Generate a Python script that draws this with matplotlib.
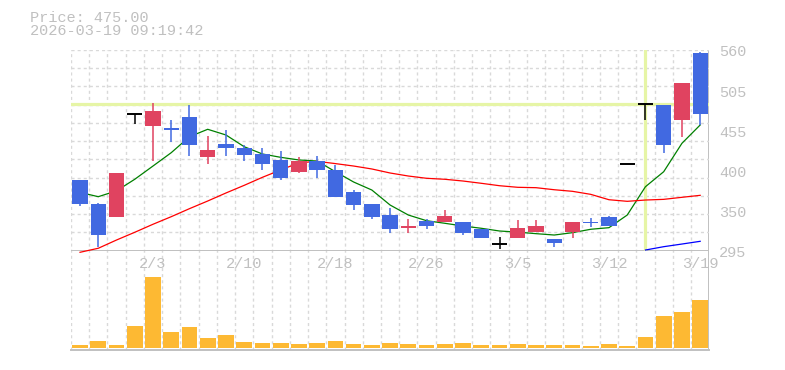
import numpy as np
import matplotlib
matplotlib.use("Agg")
import matplotlib.pyplot as plt
import matplotlib.transforms as mtransforms

# trading days shown on the chart
dates = ["1/28", "1/29", "1/30", "2/2", "2/3", "2/4", "2/5", "2/6", "2/9", "2/10",
         "2/12", "2/13", "2/16", "2/17", "2/18", "2/19", "2/20", "2/24", "2/25", "2/26",
         "2/27", "3/2", "3/3", "3/4", "3/5", "3/6", "3/9", "3/10", "3/11", "3/12",
         "3/13", "3/16", "3/17", "3/18", "3/19"]

opens = [388, 357, 340, 476, 460, 457, 471.5, 419, 436, 431,
         423, 415, 399, 413, 402, 372, 357, 342, 324.5, 334,
         333, 333, 323, 304, 312, 320, 310.5, 320, 333, 339.5,
         409, 488.7, 487, 467, 556]
highs = [388, 358, 398, 476, 490, 468, 487, 446, 454, 434,
         431, 427, 419, 420, 408, 375, 357, 351, 337, 336.5,
         349, 333, 323, 313, 335.5, 335, 310.5, 333, 338, 341,
         409, 488.7, 488, 516, 558]
lows = [354, 300, 340, 462, 414, 438, 420, 410, 420, 414,
        401, 389, 397, 391, 366, 349, 337, 318, 318, 323,
        333, 316, 312, 297, 312, 320, 299.5, 312, 326, 327,
        409, 467, 424, 445.5, 461]
closes = [357, 316, 398, 476, 480, 454.5, 435, 428, 430, 422,
          410, 391, 413, 401, 366, 356, 340, 323, 327, 328,
          341, 319, 312, 304, 325, 327, 305, 333, 331, 328,
          409, 488.7, 435, 516, 475]
volume = [900, 2100, 900, 6600, 21400, 4800, 6300, 3000, 3900, 1800,
          1500, 1500, 1200, 1500, 2100, 1200, 900, 1500, 1200, 900,
          1200, 1500, 900, 900, 1200, 900, 900, 900, 600, 1200,
          600, 3300, 9600, 10800, 14400]

nan = np.nan
ma_short = [372, 366.3, 374, 389.3, 406.8, 424.4, 445.5, 455.3, 447.8, 432.3,
            422.7, 418.3, 414.8, 413.4, 399.3, 385.7, 375.1, 355.3, 342.1, 334.6,
            331.2, 327.6, 324.6, 321, 319.5, 317.5, 315.7, 318.8, 323.3, 325.4,
            342.1, 379.5, 399.3, 436.8, 461]
ma_mid = [292.9, 298.2, 309.1, 319.3, 329.9, 339.9, 350.5, 360.6, 371.2, 381.3,
          391.9, 401.6, 411, 413, 410, 406.8, 402.9, 397.6, 393.6, 390.6,
          389.3, 387, 384, 380.8, 378.7, 378.2, 375.5, 373.4, 369.4, 362.3,
          360.2, 361.9, 362.8, 365.5, 368.1]
ma_long = [nan] * 31 + [295.9, 300.3, 303.8, 307.4]

price_ticks = ["295", "350", "400", "455", "505", "560"]
price_now = 475.00
timestamp = "2026-03-19 09:19:42"
cross_idx = 31
cross_price = 488.7

y_min, y_max = 295, 560
gray = "#c0c0c0"
grid_c = "#d9d9d9"
up_c = "#e04360"
down_c = "#4169e1"
mono = "Liberation Mono"

W, H = 785, 370
fig = plt.figure(figsize=(W / 100, H / 100), dpi=100)


def px_axes(x0, y0, x1, y1):
    return fig.add_axes([x0 / W, 1 - y1 / H, (x1 - x0) / W, (y1 - y0) / H])


x = np.arange(len(dates))
xl = (-0.5, len(dates) - 0.5)

# background: vertical dashed grid through both panels
bg = px_axes(70.9, 50, 709.3, 350)
bg.set_xlim(xl)
bg.set_ylim(0, 1)
bg.axis("off")
for k in np.arange(-0.5, len(dates) - 0.5):
    bg.axvline(k, color=grid_c, lw=1.0, ls=(0, (2.2, 2.2)))
bg.axvline(xl[1], color=gray, lw=1.4)

# price panel
ax = px_axes(70.9, 50, 709.3, 250.7)
ax.set_facecolor("none")
ax.set_xlim(xl)
ax.set_ylim(y_min, y_max)
for s in ax.spines.values():
    s.set_visible(False)
for lv in np.linspace(y_min, y_max, 12)[1:]:
    ax.axhline(lv, color=grid_c, lw=1.0, ls=(0, (2.2, 2.2)), zorder=0.5)
ax.axhline(y_min, color=gray, lw=1.4, zorder=0.6)

# crosshair
ax.axhline(cross_price, color="#e6f5a6", lw=2.3, zorder=1)
ax.axvline(cross_idx, color="#e6f5a6", lw=2.3, zorder=1)

# moving averages
ax.plot(x, ma_short, color="green", lw=0.9, zorder=2, clip_on=False)
ax.plot(x, ma_mid, color="red", lw=0.9, zorder=2, clip_on=False)
ax.plot(x, ma_long, color="blue", lw=0.9, zorder=2, clip_on=False)

# candles
bw = 0.84
for i in range(len(dates)):
    o, h, l, c = opens[i], highs[i], lows[i], closes[i]
    if c > o:
        col = up_c
    elif c < o:
        col = down_c
    else:
        col = "black"
    ax.vlines(i, l, h, color=col, lw=1.1, zorder=3)
    if c == o:
        ax.hlines(o, i - bw / 2, i + bw / 2, color=col, lw=1.4, zorder=3)
    else:
        ax.bar(i, abs(c - o), bottom=min(o, c), width=bw, color=col,
               linewidth=0, zorder=3.5)

tick_idx = list(range(4, len(dates), 5))
ax.set_xticks(tick_idx, [dates[i] for i in tick_idx])
ax.set_yticks([])
ax.tick_params(axis="x", length=0, pad=4.3, labelcolor=gray, labelsize=11)
for t in ax.get_xticklabels():
    t.set_family(mono)

# right-hand price labels
tr = mtransforms.blended_transform_factory(ax.transAxes, ax.transData)
tr = tr + mtransforms.ScaledTranslation(0, -2.5 / 100, fig.dpi_scale_trans)
for lv, lab in zip(np.linspace(y_min, y_max, len(price_ticks)), price_ticks):
    ax.text(1.0152, lv, lab, transform=tr, ha="left", va="center",
            color=gray, fontsize=11, family=mono, clip_on=False)

# volume panel
vax = px_axes(70.9, 270, 709.3, 350)
vax.set_facecolor("none")
vax.bar(x, volume, width=0.86, color="#fdb933", linewidth=0)
vax.set_xlim(xl)
vax.set_ylim(-600, 23400)
for s in vax.spines.values():
    s.set_visible(False)
vax.spines["bottom"].set_visible(True)
vax.spines["bottom"].set_color(gray)
vax.spines["bottom"].set_linewidth(1.4)
vax.set_xticks([])
vax.set_yticks([])

fig.text(30 / W, 1 - 24.5 / H, "Price: %.2f\n%s" % (price_now, timestamp),
         color=gray, fontsize=11, family=mono, va="center", ha="left",
         linespacing=0.9)

fig.savefig("out.png", dpi=100)
